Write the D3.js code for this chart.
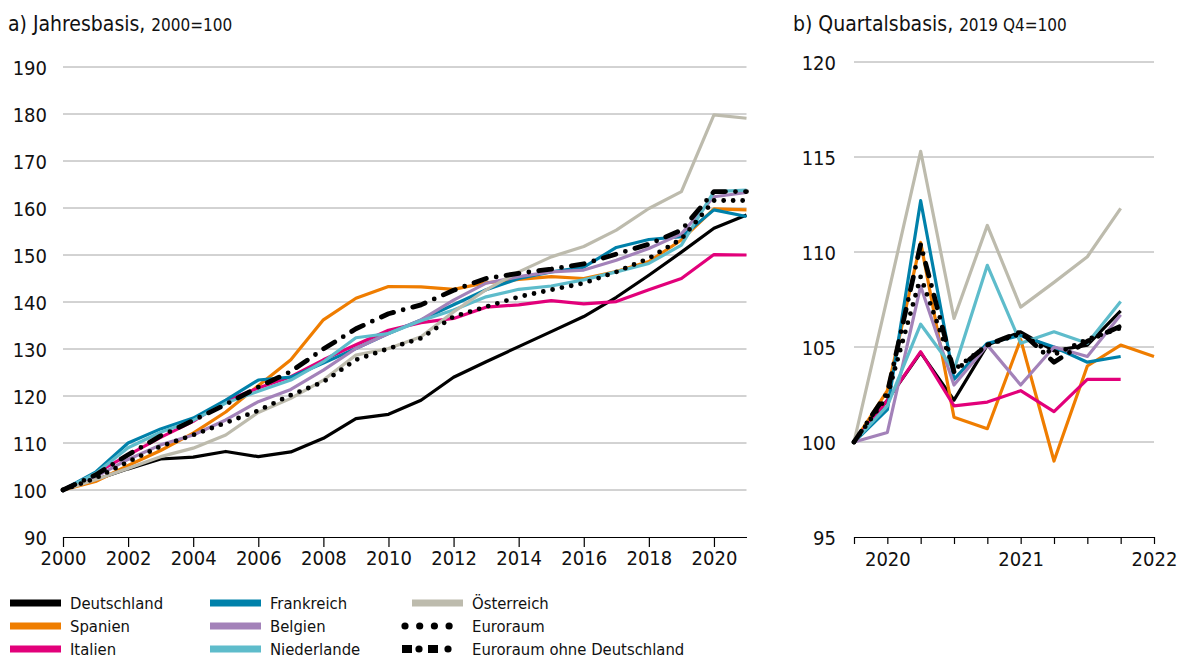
<!DOCTYPE html>
<html>
<head>
<meta charset="utf-8">
<script src="https://cdn.jsdelivr.net/npm/d3@7"></script>
<style>
  body { margin: 0; background: #fff; }
  text { font-family: "Liberation Sans Narrow", "DejaVu Sans Condensed", "Roboto", sans-serif; fill: #111; }
</style>
</head>
<body>
<script>
// annual data, 2000 = 100
var years = d3.range(2000, 2022);
var deutschland = [100, 102.2, 104.5, 106.6, 107.0, 108.2, 107.1, 108.1, 111.0, 115.2, 116.1, 119.1, 124.0, 127.3, 130.5, 133.7, 136.9, 141.0, 145.7, 150.6, 155.7, 158.5];
var spanien     = [100, 101.8, 105.2, 108.4, 112.1, 116.6, 122.2, 127.7, 136.2, 140.8, 143.3, 143.2, 142.7, 144.1, 144.8, 145.4, 145.0, 146.5, 148.6, 153.2, 159.8, 159.6];
var italien     = [100, 103.6, 107.4, 111.2, 114.6, 119.0, 121.7, 124.1, 127.7, 130.9, 134.0, 135.6, 136.5, 138.9, 139.4, 140.3, 139.6, 140.1, 142.6, 145.0, 150.1, 150.0];
var frankreich  = [100, 103.8, 110.0, 113.0, 115.3, 119.1, 123.4, 124.0, 127.0, 130.1, 133.3, 136.2, 139.4, 142.6, 145.0, 146.4, 147.4, 151.6, 153.3, 153.9, 159.6, 158.2];
var belgien     = [100, 102.8, 106.5, 109.6, 111.7, 114.9, 118.8, 121.4, 125.5, 130.1, 133.3, 136.2, 140.4, 144.0, 145.4, 146.4, 146.8, 148.9, 151.4, 154.5, 162.4, 163.3];
var niederlande = [100, 103.5, 109.0, 112.3, 114.8, 118.5, 121.0, 123.4, 127.3, 132.4, 133.3, 136.0, 138.3, 141.1, 142.7, 143.4, 144.7, 146.4, 148.2, 152.1, 163.5, 163.8];
var oesterreich = [100, 102.2, 104.6, 107.1, 108.9, 111.7, 116.5, 119.5, 123.4, 128.7, 130.1, 132.6, 137.9, 142.6, 146.4, 149.6, 151.8, 155.3, 159.9, 163.5, 179.8, 179.1];
var euroraum    = [100, 102.5, 106.0, 109.3, 111.7, 114.3, 116.9, 120.2, 123.0, 127.7, 130.1, 132.3, 136.9, 139.0, 141.1, 142.6, 144.0, 146.4, 149.3, 153.4, 161.6, 161.6];
var euroOhneDE  = [100, 103.2, 107.5, 111.5, 114.8, 118.2, 121.9, 125.2, 130.0, 134.3, 137.5, 139.4, 142.5, 145.0, 146.1, 147.0, 148.1, 150.2, 152.3, 155.3, 163.5, 163.5];

// quarterly data, 2019 Q4 = 100 (index 0 = 2019 Q4)
var quarters = d3.range(0, 10);
var qTickLabels = ["", "2020", "", "", "", "2021", "", "", "", "2022"];
var qDeutschland = [100, 102.2, 104.7, 102.2, 105.1, 105.8, 104.8, 105.1, 106.9];
var qSpanien     = [100, 102.7, 110.5, 101.3, 100.7, 105.4, 99.0, 104.0, 105.1, 104.5];
var qItalien     = [100, 102.2, 104.75, 101.9, 102.1, 102.7, 101.6, 103.3, 103.3];
var qFrankreich  = [100, 101.7, 112.7, 103.3, 105.2, 105.6, 105.0, 104.2, 104.5];
var qBelgien     = [100, 100.5, 108.2, 103.0, 105.1, 103.0, 105.0, 104.5, 106.7];
var qNiederlande = [100, 101.9, 106.2, 103.8, 109.3, 105.2, 105.8, 105.2, 107.4];
var qOesterreich = [100, 107.6, 115.3, 106.5, 111.4, 107.1, 108.4, 109.75, 112.3];
var qEuroraum    = [100, 102.4, 108.7, 103.8, 105.1, 105.7, 104.6, 105.4, 106.0];
var qEuroOhneDE  = [100, 102.6, 110.4, 103.7, 105.1, 105.8, 104.2, 105.3, 106.1];

var series = [
  {name: "Deutschland", color: "#000000", a: deutschland, q: qDeutschland},
  {name: "Spanien", color: "#EF7D00", a: spanien, q: qSpanien},
  {name: "Italien", color: "#E2007A", a: italien, q: qItalien},
  {name: "Frankreich", color: "#0081AA", a: frankreich, q: qFrankreich},
  {name: "Belgien", color: "#A382B9", a: belgien, q: qBelgien},
  {name: "Niederlande", color: "#5EBCCB", a: niederlande, q: qNiederlande},
  {name: "Österreich", color: "#BDBBAD", a: oesterreich, q: qOesterreich},
  {name: "Euroraum", color: "#000000", a: euroraum, q: qEuroraum, style: "dot"},
  {name: "Euroraum ohne Deutschland", color: "#000000", a: euroOhneDE, q: qEuroOhneDE, style: "dashdot"}
];

var svg = d3.select("body").append("svg")
    .attr("width", 1184)
    .attr("height", 659);

var gridColor = "#a6a6a6";

function styleLine(sel) {
  sel.attr("fill", "none")
     .attr("stroke", function(d) { return d.color; })
     .attr("stroke-linejoin", "round")
     .attr("stroke-width", function(d) { return d.style ? 4.8 : 3.2; })
     .attr("stroke-linecap", function(d) { return d.style ? "round" : "butt"; })
     .attr("stroke-dasharray", function(d) {
       if (d.style == "dot") return "0 9.5";
       if (d.style == "dashdot") return "13 10 0 10";
       return null;
     });
}

// ---------- panel a ----------
var xA = d3.scaleLinear().domain([2000, 2021]).range([63, 746.5]);
var yA = d3.scaleLinear().domain([90, 190]).range([537, 67]);

var gA = svg.append("g");
gA.selectAll(".grid").data(d3.range(100, 191, 10)).enter().append("line")
    .attr("x1", xA.range()[0]).attr("x2", xA.range()[1])
    .attr("y1", function(d) { return yA(d); }).attr("y2", function(d) { return yA(d); })
    .attr("stroke", gridColor).attr("stroke-width", 1);

var yAxisA = gA.append("g")
    .attr("transform", "translate(47,0)")
    .call(d3.axisLeft(yA).tickValues(d3.range(90, 191, 10)).tickSize(0).tickPadding(0));
yAxisA.select(".domain").remove();

var xAxisA = gA.append("g")
    .attr("transform", "translate(0,537)")
    .call(d3.axisBottom(xA).tickValues(d3.range(2000, 2022, 2)).tickFormat(d3.format("d"))
      .tickSize(10).tickSizeOuter(0).tickPadding(4));

var lineA = d3.line()
    .x(function(d, i) { return xA(years[i]); })
    .y(function(d) { return yA(d); });

gA.selectAll(".lineA").data(series).enter().append("path")
    .attr("d", function(d) { return lineA(d.a); })
    .call(styleLine);

// ---------- panel b ----------
var xB = d3.scaleLinear().domain([0, 9]).range([854, 1154]);
var yB = d3.scaleLinear().domain([95, 120]).range([537, 62]);

var gB = svg.append("g");
gB.selectAll(".grid").data(d3.range(100, 121, 5)).enter().append("line")
    .attr("x1", xB.range()[0]).attr("x2", xB.range()[1])
    .attr("y1", function(d) { return yB(d); }).attr("y2", function(d) { return yB(d); })
    .attr("stroke", gridColor).attr("stroke-width", 1);

var yAxisB = gB.append("g")
    .attr("transform", "translate(836,0)")
    .call(d3.axisLeft(yB).tickValues(d3.range(95, 121, 5)).tickSize(0).tickPadding(0));
yAxisB.select(".domain").remove();

var xAxisB = gB.append("g")
    .attr("transform", "translate(0,537)")
    .call(d3.axisBottom(xB).tickValues(quarters).tickFormat(function(d) { return qTickLabels[d]; })
      .tickSize(7).tickSizeOuter(0).tickPadding(8));

var lineB = d3.line()
    .x(function(d, i) { return xB(quarters[i]); })
    .y(function(d) { return yB(d); });

gB.selectAll(".lineB").data(series).enter().append("path")
    .attr("d", function(d) { return lineB(d.q); })
    .call(styleLine);

// axis styling
svg.selectAll(".tick text").attr("font-size", 20).attr("font-family", null).attr("fill", "#111");
svg.selectAll(".domain, .tick line").attr("stroke", "#000").attr("stroke-width", 1.2);
yAxisA.selectAll(".tick text").attr("dy", "0.36em");
yAxisB.selectAll(".tick text").attr("dy", "0.36em");

// ---------- titles ----------
var tA = svg.append("text").attr("x", 8).attr("y", 31).attr("font-size", 21);
tA.append("tspan").text("a) Jahresbasis, ");
tA.append("tspan").attr("font-size", 17).text("2000=100");

var tB = svg.append("text").attr("x", 793).attr("y", 31).attr("font-size", 21);
tB.append("tspan").text("b) Quartalsbasis, ");
tB.append("tspan").attr("font-size", 17).text("2019 Q4=100");

// ---------- legend ----------
var legCols = [10, 210, 412];
var legRows = [603, 626, 649];
var leg = svg.append("g").selectAll("g").data(series).enter().append("g")
    .attr("transform", function(d, i) {
      return "translate(" + legCols[Math.floor(i / 3)] + "," + legRows[i % 3] + ")";
    });

leg.each(function(d) {
  var g = d3.select(this);
  if (d.style == "dot") {
    g.selectAll("circle").data([0, 1, 2, 3]).enter().append("circle")
      .attr("cx", function(k) { return -7 + k * 14.7; }).attr("cy", 0).attr("r", 3.6).attr("fill", "#000");
  } else if (d.style == "dashdot") {
    [0, 1].forEach(function(k) {
      g.append("rect").attr("x", -10 + k * 26).attr("y", -4).attr("width", 10).attr("height", 8).attr("fill", "#000");
      g.append("circle").attr("cx", 7 + k * 29).attr("cy", 0).attr("r", 3.6).attr("fill", "#000");
    });
  } else {
    g.append("rect").attr("x", 0).attr("y", -3.5).attr("width", 51).attr("height", 7).attr("fill", d.color);
  }
  g.append("text").attr("x", 60).attr("y", 0).attr("dy", "0.36em").attr("font-size", 16.5).text(d.name);
});
</script>
</body>
</html>
